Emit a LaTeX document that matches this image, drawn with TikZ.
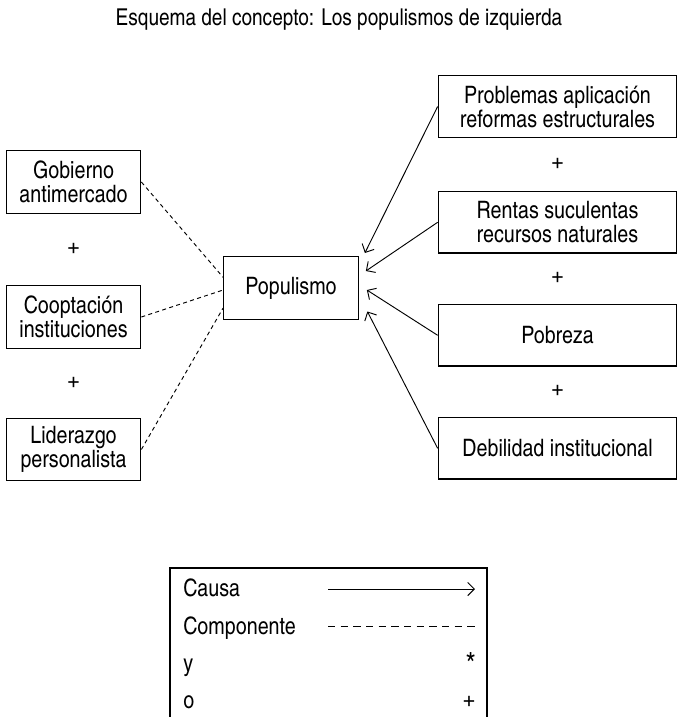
\documentclass[tikz,border=0pt]{standalone}
\usepackage{fontspec}
\setmainfont{TeX Gyre Heros Cn}
\usetikzlibrary{positioning,calc,arrows.meta}
\tikzset{
>={Straight Barb[length=5pt,width=10pt]},
  caja/.style={
    rectangle,
    draw=black, line width=0.8pt,
    minimum width=101pt,
    minimum height=47pt,
    align=center,
    inner sep=2pt},
  cajaancha/.style={caja, minimum width=179pt, minimum height=46pt},
  causa/.style={draw, line width=0.7pt, ->},
  componente/.style={draw, line width=0.7pt, dash pattern=on 3pt off 2.5pt},
  leyenda/.style={anchor=base west, inner sep=0pt},
  signo/.style={inner sep=0pt, font=\fontsize{21}{21}\selectfont},
}
\begin{document}
\begin{tikzpicture}
[x=0.75pt, y=-0.75pt, font=\fontsize{18}{18}\selectfont]

    \useasboundingbox (0,0) rectangle (678,717);
    \node [anchor=base, font=\fontsize{17.4}{18}\selectfont] (titulo) at (339,26) {Esquema del concepto: Los populismos de izquierda};

    % componentes (izquierda)
    \node [caja](gob) at (73.5,182) {Gobierno\\antimercado};
    \node [caja](coop) at (73.5,317) {Cooptación\\instituciones};
    \node [caja](lider) at (73.5,449.5) {Liderazgo\\personalista};
    \node [signo] (mas1) at ($(gob.south)!0.5!(coop.north)$) {+};
    \node [signo] (mas2) at ($(coop.south)!0.5!(lider.north)$) {+};

    \node [caja](popu) at (291,288) {Populismo};

    % causas (derecha)
    \node [cajaancha](prob) at (557.5,106.5) {Problemas aplicación\\reformas estructurales};
    \node [cajaancha](rent) at (557.5,222.3) {Rentas suculentas\\recursos naturales};
    \node [cajaancha](pobr) at (557.5,335.3) {Pobreza};
    \node [cajaancha](debil) at (557.5,448.3) {Debilidad institucional};
    \node [signo] (mas3) at ($(prob.south)!0.5!(rent.north)$) {+};
    \node [signo] (mas4) at ($(rent.south)!0.5!(pobr.north)$) {+};
    \node [signo] (mas5) at ($(pobr.south)!0.5!(debil.north)$) {+};

    \draw[componente] (gob.east) -- ([yshift=8pt]popu.west);
    \draw[componente] (coop.east) -- ([yshift=-1.5pt]popu.west);
    \draw[componente] (lider.east) -- ([yshift=-15pt]popu.west);

    \draw[causa] (prob.west) -- ([shift={(6,-35)}]popu.east);
    \draw[causa] (rent.west) -- ([shift={(7,-17)}]popu.east);
    \draw[causa] (pobr.west) -- ([shift={(8,2)}]popu.east);
    \draw[causa] (debil.west) -- ([shift={(8.5,23.5)}]popu.east);

    % leyenda
    \draw[line width=0.8pt] (170,730) |- (487,568) -- (487,730);
    \node [leyenda] (lcausa) at (183,596) {Causa};
    \node [leyenda] (lcomp) at (183,634) {Componente};
    \node [leyenda] (ly) at (183,671) {y};
    \node [leyenda] (lo) at (183,708) {o};
    \coordinate (c1) at (328,589);
    \coordinate (c2) at (475,589);
    \coordinate (d1) at (328,626);
    \coordinate (d2) at (475,626);
    \draw[causa] (c1) -- (c2);
    \draw[line width=0.7pt, dash pattern=on 5.5pt off 4pt] (d1) -- (d2);
    \node [signo, anchor=base east, font=\fontsize{24}{24}\selectfont] (ast) at (476,675) {*};
    \node [signo, anchor=base east] (cruz) at (476,708) {+};

\end{tikzpicture}
\end{document}
